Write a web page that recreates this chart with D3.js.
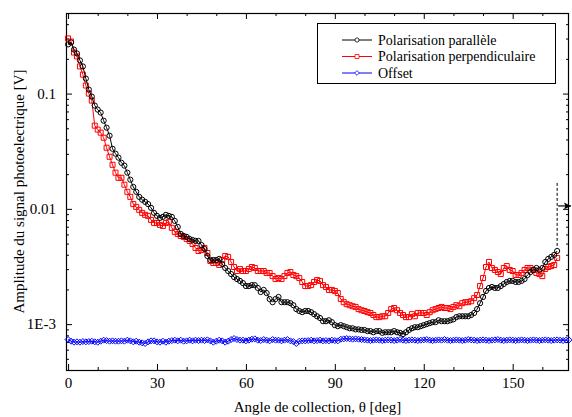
<!DOCTYPE html>
<html>
<head>
<meta charset="utf-8">
<script src="https://cdn.jsdelivr.net/npm/d3@7"></script>
<style>
    body { margin: 0; background: #fff; }
</style>
</head>
<body>
<div id="chart"></div>
<script>

// angle of collection (deg), one sample per degree
const angleParallel = d3.range(0, 166);
const angleOffset = d3.range(0, 170);

const parallel = [
    0.267, 0.278, 0.241, 0.223, 0.194, 0.172, 0.135, 0.1083, 0.0942, 0.0787,
    0.0726, 0.0684, 0.0582, 0.0506, 0.0431, 0.0332, 0.0301, 0.0278, 0.0251, 0.0237,
    0.0206, 0.0179, 0.0155, 0.01405, 0.0127, 0.0120, 0.0115, 0.0110, 0.0102, 0.00923,
    0.00869, 0.00835, 0.00852, 0.00887, 0.00869, 0.00852, 0.00786, 0.00697, 0.00606, 0.00582,
    0.00571, 0.00548, 0.00537, 0.00527, 0.00527, 0.00486, 0.00449, 0.00390, 0.00360, 0.00360,
    0.00360, 0.00368, 0.00332, 0.00307, 0.00289, 0.00272, 0.00256, 0.00246, 0.00237, 0.00227,
    0.00214, 0.00214, 0.00218, 0.00218, 0.00206, 0.00190, 0.00198, 0.00186, 0.00165, 0.00155,
    0.00165, 0.00172, 0.00155, 0.00155, 0.00155, 0.00152, 0.00146, 0.00135, 0.00130, 0.00127,
    0.00130, 0.00130, 0.00127, 0.00122, 0.00117, 0.00113, 0.00106, 0.00106, 0.00108, 0.00104,
    0.00098, 0.00096, 0.00098, 0.00096, 0.00094, 0.00092, 0.00092, 0.00090, 0.00090, 0.00089,
    0.00089, 0.00087, 0.00087, 0.00085, 0.00087, 0.00087, 0.00084, 0.00085, 0.00085, 0.00085,
    0.00087, 0.00085, 0.00084, 0.00082, 0.00085, 0.00089, 0.00092, 0.00094, 0.00094, 0.00096,
    0.00098, 0.00100, 0.00102, 0.00104, 0.00104, 0.00108, 0.00106, 0.00106, 0.00106, 0.00108,
    0.00110, 0.00115, 0.00117, 0.00117, 0.00117, 0.00117, 0.00120, 0.00125, 0.00135, 0.00152,
    0.00172, 0.00194, 0.00206, 0.00210, 0.00206, 0.00206, 0.00214, 0.00223, 0.00232, 0.00237,
    0.00237, 0.00232, 0.00232, 0.00237, 0.00246, 0.00267, 0.00283, 0.00295, 0.00307, 0.00295,
    0.00307, 0.00346, 0.00368, 0.00383, 0.00398, 0.00431
];

const perpendicular = [
    0.301, 0.283, 0.227, 0.210, 0.172, 0.146, 0.1175, 0.100, 0.0869, 0.0527,
    0.0487, 0.0458, 0.0414, 0.0339, 0.0283, 0.0241, 0.0206, 0.0186, 0.0186, 0.0162,
    0.01405, 0.0127, 0.0110, 0.0104, 0.0098, 0.00923, 0.00887, 0.00869, 0.00802, 0.00755,
    0.00755, 0.00726, 0.00711, 0.00755, 0.00771, 0.00684, 0.00631, 0.00606, 0.00582, 0.00571,
    0.00548, 0.00527, 0.00496, 0.00458, 0.00431, 0.00440, 0.00458, 0.00414, 0.00353, 0.00339,
    0.00339, 0.00326, 0.00360, 0.00390, 0.00383, 0.00346, 0.00313, 0.00289, 0.00301, 0.00289,
    0.00289, 0.00301, 0.00313, 0.00307, 0.00289, 0.00289, 0.00289, 0.00278, 0.00278, 0.00261,
    0.00246, 0.00251, 0.00246, 0.00261, 0.00278, 0.00283, 0.00267, 0.00261, 0.00251, 0.00232,
    0.00214, 0.00214, 0.00218, 0.00232, 0.00241, 0.00237, 0.00218, 0.00210, 0.00198, 0.00198,
    0.00194, 0.00186, 0.00165, 0.00155, 0.00149, 0.00146, 0.00143, 0.00141, 0.00135, 0.00132,
    0.00130, 0.00127, 0.00125, 0.00120, 0.00115, 0.00115, 0.00117, 0.00117, 0.00125, 0.00135,
    0.00138, 0.00132, 0.00125, 0.00120, 0.00115, 0.00115, 0.00122, 0.00117, 0.00125, 0.00125,
    0.00125, 0.00120, 0.00127, 0.00132, 0.00135, 0.00138, 0.00141, 0.00138, 0.00138, 0.00135,
    0.00141, 0.00146, 0.00143, 0.00152, 0.00155, 0.00155, 0.00158, 0.00168, 0.00179, 0.00214,
    0.00251, 0.00313, 0.00346, 0.00307, 0.00295, 0.00283, 0.00272, 0.00307, 0.00319, 0.00295,
    0.00289, 0.00267, 0.00267, 0.00278, 0.00295, 0.00307, 0.00307, 0.00295, 0.00278, 0.00272,
    0.00261, 0.00301, 0.00313, 0.00319, 0.00326, 0.00375
];

const offset = [
    0.000735, 0.000711, 0.000697, 0.000702, 0.000697, 0.000706, 0.000702, 0.000706, 0.000711, 0.000702,
    0.000697, 0.000711, 0.000726, 0.000720, 0.000711, 0.000716, 0.000711, 0.000711, 0.000716, 0.000711,
    0.000726, 0.000716, 0.000702, 0.000711, 0.000697, 0.000688, 0.000679, 0.000702, 0.000716, 0.000716,
    0.000702, 0.000697, 0.000711, 0.000697, 0.000711, 0.000720, 0.000726, 0.000716, 0.000726, 0.000711,
    0.000716, 0.000726, 0.000716, 0.000726, 0.000720, 0.000726, 0.000720, 0.000730, 0.000716, 0.000697,
    0.000711, 0.000726, 0.000716, 0.000697, 0.000711, 0.000735, 0.000750, 0.000735, 0.000726, 0.000726,
    0.000716, 0.000726, 0.000740, 0.000745, 0.000726, 0.000720, 0.000735, 0.000726, 0.000716, 0.000735,
    0.000726, 0.000726, 0.000716, 0.000726, 0.000735, 0.000716, 0.000706, 0.000679, 0.000711, 0.000716,
    0.000716, 0.000720, 0.000726, 0.000716, 0.000720, 0.000726, 0.000716, 0.000720, 0.000716, 0.000726,
    0.000720, 0.000716, 0.000740, 0.000745, 0.000750, 0.000745, 0.000740, 0.000745, 0.000740, 0.000735,
    0.000730, 0.000726, 0.000720, 0.000726, 0.000730, 0.000726, 0.000720, 0.000726, 0.000730, 0.000726,
    0.000720, 0.000726, 0.000735, 0.000726, 0.000720, 0.000726, 0.000730, 0.000726, 0.000720, 0.000726,
    0.000730, 0.000735, 0.000726, 0.000720, 0.000726, 0.000730, 0.000726, 0.000735, 0.000726, 0.000720,
    0.000726, 0.000730, 0.000726, 0.000720, 0.000726, 0.000735, 0.000730, 0.000726, 0.000720, 0.000726,
    0.000730, 0.000726, 0.000720, 0.000726, 0.000730, 0.000735, 0.000726, 0.000720, 0.000726, 0.000730,
    0.000726, 0.000720, 0.000726, 0.000730, 0.000726, 0.000720, 0.000726, 0.000730, 0.000726, 0.000720,
    0.000726, 0.000730, 0.000726, 0.000720, 0.000726, 0.000730, 0.000726, 0.000720, 0.000726, 0.000730
];

const xMajor = [0, 30, 60, 90, 120, 150];
const xMinor = d3.range(10, 170, 10).filter(d => d % 30 !== 0);
const yMajor = [0.1, 0.01, 0.001];
const yTickLabels = ["0.1", "0.01", "1E-3"];
const seriesNames = ["Polarisation parallèle", "Polarisation perpendiculaire", "Offset"];

// dashed marker at the end of the parallel curve
const markAngle = 165, markTop = 0.0168, markArrow = 0.0106;

const serif = "'Liberation Serif', 'Times New Roman', 'DejaVu Serif', serif";

const width = 572, height = 417;
const margin = {top: 13, right: 3, bottom: 47, left: 66};

const svg = d3.select("#chart").append("svg")
    .attr("width", width)
    .attr("height", height)
    .attr("font-family", serif);

const x = d3.scaleLinear()
    .domain([-0.7, 169])
    .range([margin.left, width - margin.right]);

const y = d3.scaleLog()
    .domain([4e-4, 0.5])
    .range([height - margin.bottom, margin.top]);

const yMinor = [];
[1e-4, 1e-3, 1e-2, 1e-1].forEach(dec => {
    for (let k = 2; k <= 9; k++) {
        const v = dec * k;
        if (v > 4e-4 && v < 0.5) yMinor.push(v);
    }
});

// axes, ticks pointing inward
function drawAxis(axis, tx, ty, cls) {
    const g = svg.append("g")
        .attr("class", cls)
        .attr("transform", `translate(${tx},${ty})`)
        .call(axis)
        .attr("font-family", serif)
        .attr("font-size", 15);
    g.select(".domain").remove();
    g.selectAll("line").attr("stroke", "#000").attr("stroke-width", 1);
    g.selectAll("text").attr("fill", "#000");
    return g;
}

const plotBottom = height - margin.bottom, plotTop = margin.top;
const plotLeft = margin.left, plotRight = width - margin.right;

drawAxis(d3.axisBottom(x).tickValues(xMajor).tickSize(-6).tickPadding(7).tickFormat(d3.format("d")), 0, plotBottom, "x-axis");
drawAxis(d3.axisBottom(x).tickValues(xMinor).tickSize(-3).tickFormat(""), 0, plotBottom, "x-minor");
drawAxis(d3.axisTop(x).tickValues(xMajor).tickSize(-6).tickFormat(""), 0, plotTop, "x-top");
drawAxis(d3.axisTop(x).tickValues(xMinor).tickSize(-3).tickFormat(""), 0, plotTop, "x-top-minor");

drawAxis(d3.axisLeft(y).tickValues(yMajor).tickSize(-6).tickPadding(10)
    .tickFormat((d, i) => yTickLabels[i]), plotLeft, 0, "y-axis");
drawAxis(d3.axisLeft(y).tickValues(yMinor).tickSize(-3).tickFormat(""), plotLeft, 0, "y-minor");
drawAxis(d3.axisRight(y).tickValues(yMajor).tickSize(-6).tickFormat(""), plotRight, 0, "y-right");
drawAxis(d3.axisRight(y).tickValues(yMinor).tickSize(-3).tickFormat(""), plotRight, 0, "y-right-minor");

svg.append("rect")
    .attr("x", plotLeft + 0.5)
    .attr("y", plotTop + 0.5)
    .attr("width", plotRight - plotLeft - 1)
    .attr("height", plotBottom - plotTop)
    .attr("fill", "none")
    .attr("stroke", "#000")
    .attr("stroke-width", 1.2);

// axis titles
svg.append("text")
    .attr("x", (plotLeft + plotRight) / 2)
    .attr("y", 412)
    .attr("text-anchor", "middle")
    .attr("font-size", 15)
    .text("Angle de collection, θ [deg]");

svg.append("text")
    .attr("transform", `translate(24,${(plotTop + plotBottom) / 2}) rotate(-90)`)
    .attr("text-anchor", "middle")
    .attr("font-size", 15)
    .text("Amplitude du signal photoelectrique [V]");

// series
const series = [
    {name: seriesNames[1], angles: angleParallel, values: perpendicular, color: "#ff0000", shape: "square"},
    {name: seriesNames[0], angles: angleParallel, values: parallel, color: "#000000", shape: "circle"},
    {name: seriesNames[2], angles: angleOffset, values: offset, color: "#0000ff", shape: "diamond"}
];

const line = d3.line()
    .x(d => x(d[0]))
    .y(d => y(d[1]));

const symbolPath = {
    circle: "M2.6,0A2.6,2.6 0 1,1 -2.6,0A2.6,2.6 0 1,1 2.6,0Z",
    square: "M-2.5,-2.5H2.5V2.5H-2.5Z",
    diamond: "M0,-3L3,0L0,3L-3,0Z"
};

const plot = svg.append("g");

series.forEach(s => {
    const pts = s.angles.map((a, i) => [a, s.values[i]]);
    plot.append("path")
        .datum(pts)
        .attr("d", line)
        .attr("fill", "none")
        .attr("stroke", s.color)
        .attr("stroke-width", 1);
    plot.selectAll(null)
        .data(pts)
        .enter()
        .append("path")
        .attr("d", symbolPath[s.shape])
        .attr("transform", d => `translate(${x(d[0])},${y(d[1])})`)
        .attr("fill", "none")
        .attr("stroke", s.color)
        .attr("stroke-width", 1);
});

// dashed marker and arrow
svg.append("defs").append("marker")
    .attr("id", "arrow")
    .attr("viewBox", "0 0 10 10")
    .attr("refX", 10).attr("refY", 5)
    .attr("markerWidth", 11).attr("markerHeight", 7)
    .attr("markerUnits", "userSpaceOnUse")
    .attr("orient", "auto")
    .append("path")
    .attr("d", "M0,0L10,5L0,10L2,5Z")
    .attr("fill", "#000");

svg.append("line")
    .attr("x1", x(markAngle)).attr("x2", x(markAngle))
    .attr("y1", y(markTop)).attr("y2", y(parallel[parallel.length - 1]) - 3)
    .attr("stroke", "#000")
    .attr("stroke-dasharray", "3,2");

svg.append("line")
    .attr("x1", x(markAngle) + 1).attr("x2", plotRight + 2)
    .attr("y1", y(markArrow)).attr("y2", y(markArrow))
    .attr("stroke", "#000")
    .attr("stroke-width", 1.2)
    .attr("marker-end", "url(#arrow)");

// legend
const legend = svg.append("g").attr("transform", "translate(317,23)");
legend.append("rect")
    .attr("x", 0.5).attr("y", 0.5)
    .attr("width", 238).attr("height", 60)
    .attr("fill", "#fff")
    .attr("stroke", "#000");

const legendOrder = [series[1], series[0], series[2]];
legendOrder.forEach((s, i) => {
    const ly = 17 + i * 16.5;
    legend.append("line")
        .attr("x1", 25).attr("x2", 55)
        .attr("y1", ly).attr("y2", ly)
        .attr("stroke", s.color);
    legend.append("path")
        .attr("d", symbolPath[s.shape])
        .attr("transform", `translate(40,${ly}) scale(0.8)`)
        .attr("fill", "#fff")
        .attr("stroke", s.color);
    legend.append("text")
        .attr("x", 61)
        .attr("y", ly + 4.5)
        .attr("font-size", 14)
        .text(s.name);
});

</script>
</body>
</html>
